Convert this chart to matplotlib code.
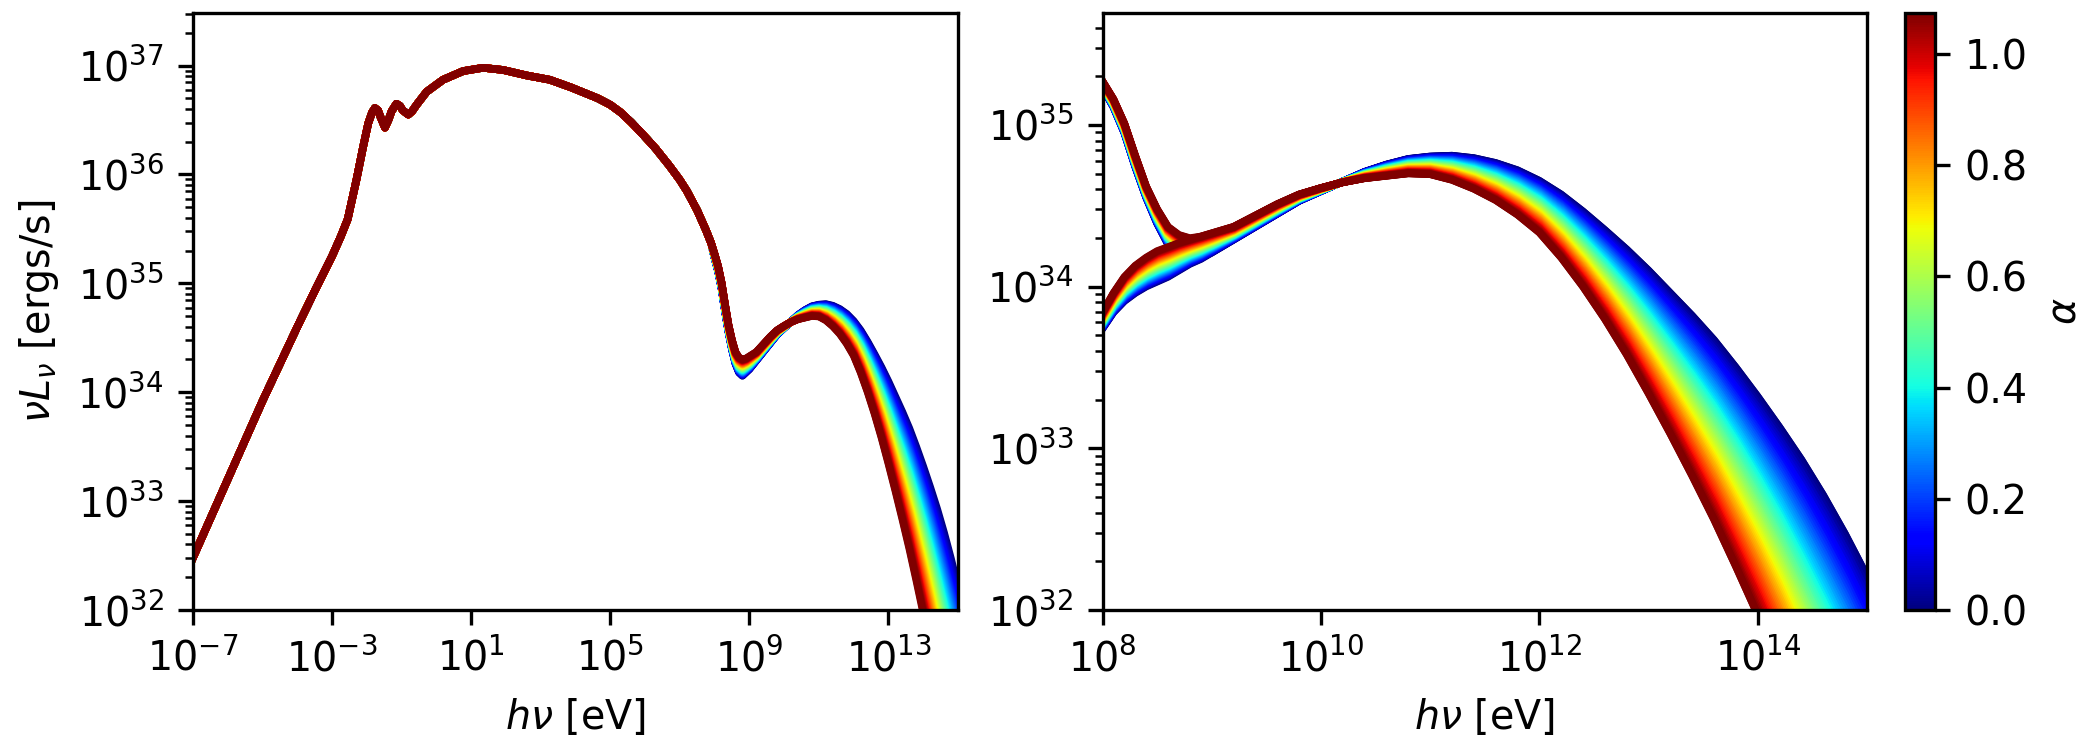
import numpy as np
import matplotlib
matplotlib.use("Agg")
import matplotlib.pyplot as plt
from matplotlib import colors, ticker
from matplotlib.cm import ScalarMappable

plt.rcParams['font.size'] = 9.5

# shared low-energy part of the SED, same for every alpha (log10 E [eV], log10 nuLnu [erg/s])
low_log_e = [-7.0, -6.0, -5.0, -4.0, -3.5, -3.0, -2.75, -2.55, -2.3, -2.11, -1.96, -1.85,
             -1.77, -1.68, -1.61, -1.48, -1.38, -1.29, -1.15, -1.05, -0.97, -0.81, -0.7,
             -0.57, -0.28, 0.19, 0.77, 1.34, 1.92, 2.59, 3.26, 3.87, 4.64, 5.0, 5.3, 5.6,
             5.93, 6.3, 6.7, 7.0, 7.2, 7.5, 7.75, 7.9]
low_log_l = [32.48, 33.2, 33.92, 34.6, 34.93, 35.25, 35.43, 35.59, 35.95, 36.25, 36.47, 36.57,
             36.61, 36.59, 36.53, 36.43, 36.5, 36.58, 36.65, 36.63, 36.59, 36.55, 36.58,
             36.64, 36.76, 36.87, 36.95, 36.98, 36.96, 36.91, 36.87, 36.8, 36.7, 36.64, 36.57,
             36.48, 36.37, 36.24, 36.08, 35.95, 35.85, 35.67, 35.49, 35.37]

# high-energy (inverse Compton) component, alpha = 0 and alpha = max
hi_log_e = [8.0, 8.1, 8.2, 8.3, 8.4, 8.5, 8.6, 8.7, 8.8, 8.9, 9.0, 9.2, 9.4, 9.6, 9.8,
            10.0, 10.2, 10.4, 10.6, 10.8, 11.0, 11.2, 11.4, 11.6, 11.8, 12.0, 12.2, 12.4,
            12.6, 12.8, 13.0, 13.2, 13.4, 13.6, 13.8, 14.0, 14.2, 14.4, 14.6, 14.8, 15.0]
ic_log_l_a0 = [33.74, 33.84, 33.91, 33.96, 34.0, 34.03, 34.06, 34.1, 34.14, 34.17, 34.21,
               34.29, 34.37, 34.45, 34.53, 34.59, 34.65, 34.71, 34.755, 34.79, 34.805, 34.81,
               34.795, 34.765, 34.72, 34.655, 34.57, 34.465, 34.35, 34.23, 34.1, 33.96, 33.82,
               33.67, 33.5, 33.32, 33.13, 32.93, 32.71, 32.47, 32.21]
ic_log_l_a1 = [33.84, 33.96, 34.06, 34.13, 34.18, 34.22, 34.245, 34.27, 34.29, 34.31, 34.33,
               34.37, 34.44, 34.51, 34.57, 34.61, 34.645, 34.67, 34.685, 34.7, 34.695, 34.66,
               34.605, 34.535, 34.445, 34.335, 34.18, 34.0, 33.8, 33.58, 33.34, 33.09, 32.83,
               32.56, 32.27, 31.97, 31.65, 31.3, 30.95, 30.6, 30.2]

# total SED just above 1e8 eV where the synchrotron tail still dominates
tail_log_e = [8.0, 8.1, 8.2, 8.3, 8.4, 8.5, 8.6, 8.7, 8.8, 8.9]
tot_log_l_a0 = [35.23, 35.11, 34.95, 34.74, 34.55, 34.39, 34.26, 34.18, 34.15, 34.18]
tot_log_l_a1 = [35.27, 35.16, 35.01, 34.81, 34.62, 34.48, 34.37, 34.32, 34.3, 34.31]

alpha_max = 1.073
n_alpha = 60

hi_e = np.array(hi_log_e)
keep = hi_e >= 9.0
tot_e = np.concatenate([tail_log_e, hi_e[keep]])
tot_a0 = np.concatenate([tot_log_l_a0, np.array(ic_log_l_a0)[keep]])
tot_a1 = np.concatenate([tot_log_l_a1, np.array(ic_log_l_a1)[keep]])
full_e = np.concatenate([low_log_e, tot_e])

cmap = plt.get_cmap('jet')
norm = colors.Normalize(vmin=0.0, vmax=alpha_max)
alphas = np.linspace(0.0, alpha_max, n_alpha)

fig = plt.figure(figsize=(7, 2.5), dpi=300)
ax1 = fig.add_axes([0.0919, 0.1867, 0.3643, 0.7955])
ax2 = fig.add_axes([0.5250, 0.1867, 0.3640, 0.7955])
cax = fig.add_axes([0.9071, 0.1867, 0.0145, 0.7955])

lw = 1.8
for a in alphas:
    w = a / alpha_max
    c = cmap(norm(a))
    tot = (1 - w) * tot_a0 + w * tot_a1
    ic = (1 - w) * np.array(ic_log_l_a0) + w * np.array(ic_log_l_a1)
    full_l = np.concatenate([low_log_l, tot])
    ax1.plot(10 ** full_e, 10 ** full_l, color=c, lw=lw)
    ax2.plot(10 ** tot_e, 10 ** tot, color=c, lw=lw)
    ax2.plot(10 ** hi_e, 10 ** ic, color=c, lw=lw)

ax1.set_xscale('log')
ax1.set_yscale('log')
ax1.set_xlim(1e-7, 1e15)
ax1.set_ylim(1e32, 10 ** 37.48)
ax1.set_xticks([1e-7, 1e-3, 1e1, 1e5, 1e9, 1e13])
ax1.xaxis.set_minor_locator(ticker.NullLocator())
ax1.set_xlabel(r'$h\nu$ [eV]')
ax1.set_ylabel(r'$\nu L_\nu$ [ergs/s]')

ax2.set_xscale('log')
ax2.set_yscale('log')
ax2.set_xlim(1e8, 1e15)
ax2.set_ylim(1e32, 10 ** 35.69)
ax2.set_xticks([1e8, 1e10, 1e12, 1e14])
ax2.xaxis.set_minor_locator(ticker.NullLocator())
ax2.set_xlabel(r'$h\nu$ [eV]')

for ax in (ax1, ax2):
    ax.yaxis.set_major_locator(ticker.LogLocator(base=10, numticks=20))
    ax.yaxis.set_minor_locator(ticker.LogLocator(base=10, subs=np.arange(2, 10), numticks=20))
    ax.yaxis.set_minor_formatter(ticker.NullFormatter())

sm = ScalarMappable(norm=norm, cmap=cmap)
cb = fig.colorbar(sm, cax=cax)
cb.set_label(r'$\alpha$')
cb.set_ticks([0.0, 0.2, 0.4, 0.6, 0.8, 1.0])

fig.savefig('out.png', dpi=300)
